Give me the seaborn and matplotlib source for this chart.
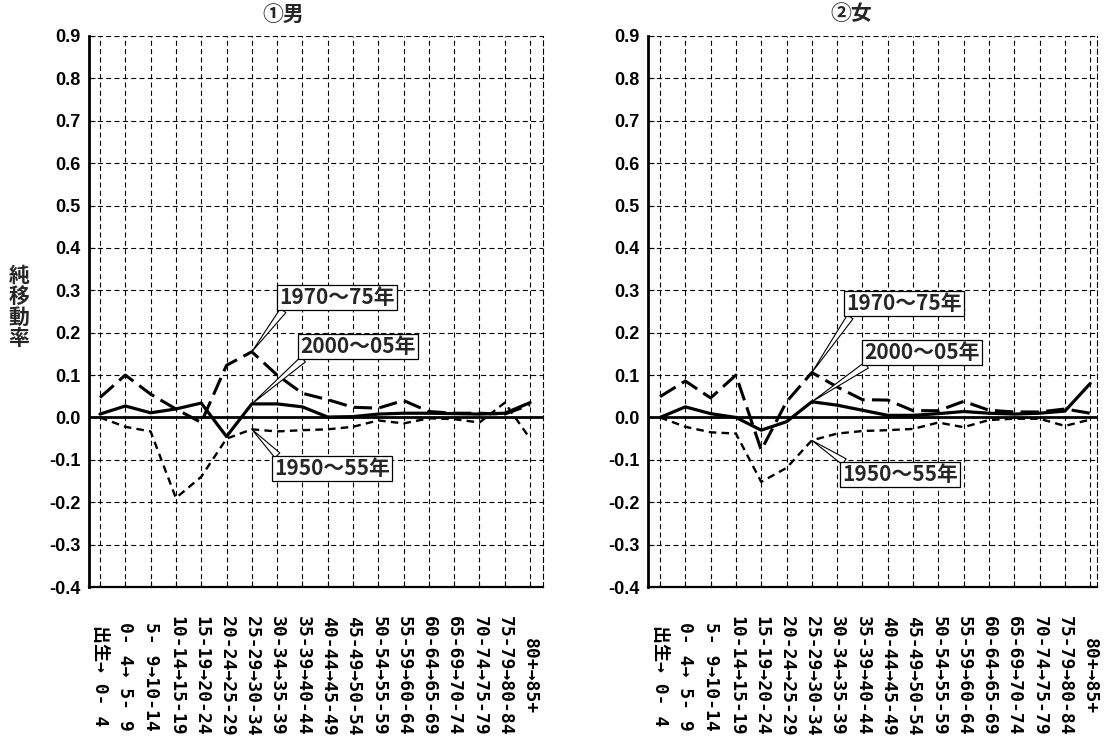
import numpy as np
import pandas as pd
import matplotlib
matplotlib.use('Agg')
import matplotlib.pyplot as plt
import seaborn as sns

# ---------------- data ----------------
categories = ["出生→ 0- 4", "0- 4→ 5- 9", "5- 9→10-14", "10-14→15-19", "15-19→20-24",
              "20-24→25-29", "25-29→30-34", "30-34→35-39", "35-39→40-44", "40-44→45-49",
              "45-49→50-54", "50-54→55-59", "55-59→60-64", "60-64→65-69", "65-69→70-74",
              "70-74→75-79", "75-79→80-84", "80+→85+"]
yticks = [-0.4, -0.3, -0.2, -0.1, 0.0, 0.1, 0.2, 0.3, 0.4, 0.5, 0.6, 0.7, 0.8, 0.9]

male_1950 = [0.000, -0.022, -0.033, -0.190, -0.140, -0.050, -0.028, -0.033, -0.030,
             -0.028, -0.022, -0.007, -0.014, -0.002, -0.004, -0.012, 0.035, -0.050]
male_1970 = [0.047, 0.100, 0.055, 0.020, -0.012, 0.123, 0.155, 0.100, 0.057,
             0.042, 0.024, 0.022, 0.040, 0.014, 0.010, 0.010, 0.008, 0.030]
male_2000 = [0.008, 0.027, 0.011, 0.020, 0.034, -0.045, 0.032, 0.032, 0.025,
             0.001, 0.002, 0.008, 0.010, 0.010, 0.009, 0.008, 0.010, 0.035]

female_1950 = [0.000, -0.022, -0.035, -0.038, -0.152, -0.119, -0.054, -0.038, -0.032,
               -0.030, -0.027, -0.012, -0.023, -0.006, -0.003, -0.003, -0.020, -0.005]
female_1970 = [0.049, 0.086, 0.046, 0.100, -0.077, 0.037, 0.106, 0.072, 0.042,
               0.041, 0.016, 0.016, 0.038, 0.017, 0.013, 0.013, 0.020, 0.010]
female_2000 = [0.000, 0.025, 0.009, 0.000, -0.030, -0.010, 0.037, 0.029, 0.017,
               0.005, 0.005, 0.009, 0.014, 0.010, 0.008, 0.010, 0.015, 0.080]

series_names = ["1950～55年", "1970～75年", "2000～05年"]
panel_titles = ["①男", "②女"]
ylabel = "純移動率"

# ---------------- style ----------------
sns.set_theme(style="white")
plt.rcParams['font.family'] = ['Noto Sans CJK JP', 'DejaVu Sans']

CJK = ['Noto Sans CJK JP', 'DejaVu Sans']
NUM = ['Liberation Sans', 'DejaVu Sans']
MONO = ['DejaVu Sans Mono', 'Noto Sans CJK JP']

line_styles = {
    "1950～55年": dict(lw=1.7, ls=(0, (3.2, 2.2))),
    "1970～75年": dict(lw=2.2, ls=(0, (6.0, 2.4))),
    "2000～05年": dict(lw=2.3, ls='-'),
}

fig = plt.figure(figsize=(11.12, 7.47), dpi=100)
W, H = 1112, 747
axL = fig.add_axes([89 / W, 160 / H, 454 / W, 551 / H])
axR = fig.add_axes([648 / W, 160 / H, 449 / W, 551 / H])

panels = [
    (axL, [male_1950, male_1970, male_2000], (-0.435, 17.51),
     {"1970～75年": ((9.37, 0.283), 6, (0.05, 0.0)),
      "2000～05年": ((10.2, 0.168), 6, (0.05, 0.0)),
      "1950～55年": ((9.17, -0.120), 6, (0.05, 1.0))}),
    (axR, [female_1950, female_1970, female_2000], (-0.475, 17.27),
     {"1970～75年": ((9.64, 0.268), 6, (0.05, 0.0)),
      "2000～05年": ((10.36, 0.154), 6, (0.05, 0.0)),
      "1950～55年": ((9.49, -0.135), 6, (0.05, 1.0))}),
]

x = np.arange(len(categories))
for k, (ax, vals, xlim, notes) in enumerate(panels):
    df = pd.DataFrame({"x": np.tile(x, 3),
                       "rate": np.concatenate(vals),
                       "period": np.repeat(series_names, len(x))})
    for name in series_names:
        sub = df[df["period"] == name]
        st = line_styles[name]
        sns.lineplot(data=sub, x="x", y="rate", ax=ax, color="black",
                     linewidth=st["lw"], linestyle=st["ls"], legend=False, zorder=3)

    ax.axhline(0, color="black", lw=2.0, zorder=2)
    ax.set_xlim(*xlim)
    ax.set_ylim(-0.4, 0.9)
    ax.set_xticks(x)
    ax.set_yticks(yticks)
    ax.set_xlabel("")
    ax.set_ylabel("")
    ax.grid(True, color="black", linestyle=(0, (4.5, 3.0)), linewidth=0.8, zorder=1)
    ax.set_axisbelow(True)
    ax.set_yticklabels([f"{v:.1f}" for v in yticks], family=NUM, fontsize=13,
                       fontweight='bold')
    ax.set_xticklabels(categories, rotation=-90, ha='center', va='center',
                       family=MONO, fontsize=13, fontweight='bold')
    ax.tick_params(axis='x', direction='in', length=4, width=0.8, pad=64,
                   bottom=True, colors='black')
    ax.tick_params(axis='y', direction='in', length=4, width=0.8, pad=6,
                   left=True, colors='black')
    ax.spines['top'].set_visible(False)
    ax.spines['right'].set_linestyle((0, (4.5, 3.0)))
    ax.spines['right'].set_linewidth(0.8)
    ax.spines['right'].set_color('black')
    ax.spines['left'].set_linewidth(2.0)
    ax.spines['left'].set_color('black')
    ax.spines['bottom'].set_linewidth(1.6)
    ax.spines['bottom'].set_color('black')

    for name, (pos, idx, rel) in notes.items():
        vi = series_names.index(name)
        ax.annotate(name, xy=(x[idx], vals[vi][idx]), xytext=pos,
                    ha='center', va='center', fontsize=15, fontweight='bold', family=CJK,
                    bbox=dict(boxstyle='square,pad=0.1', fc='white', ec='black', lw=0.9),
                    arrowprops=dict(arrowstyle='wedge,tail_width=0.33,shrink_factor=0.5',
                                    fc='white', ec='black', lw=0.8, relpos=rel,
                                    shrinkA=0, shrinkB=0),
                    zorder=5)

fig.text(283 / W, 1 - 14 / H, panel_titles[0], ha='center', va='center',
         fontsize=15, fontweight='bold', family=CJK)
fig.text(851 / W, 1 - 14 / H, panel_titles[1], ha='center', va='center',
         fontsize=15, fontweight='bold', family=CJK)
fig.text(19 / W, 1 - 307 / H, "\n".join(ylabel), ha='center', va='center',
         fontsize=15, fontweight='bold', family=CJK, linespacing=1.0)

fig.savefig("out.png", dpi=100)
